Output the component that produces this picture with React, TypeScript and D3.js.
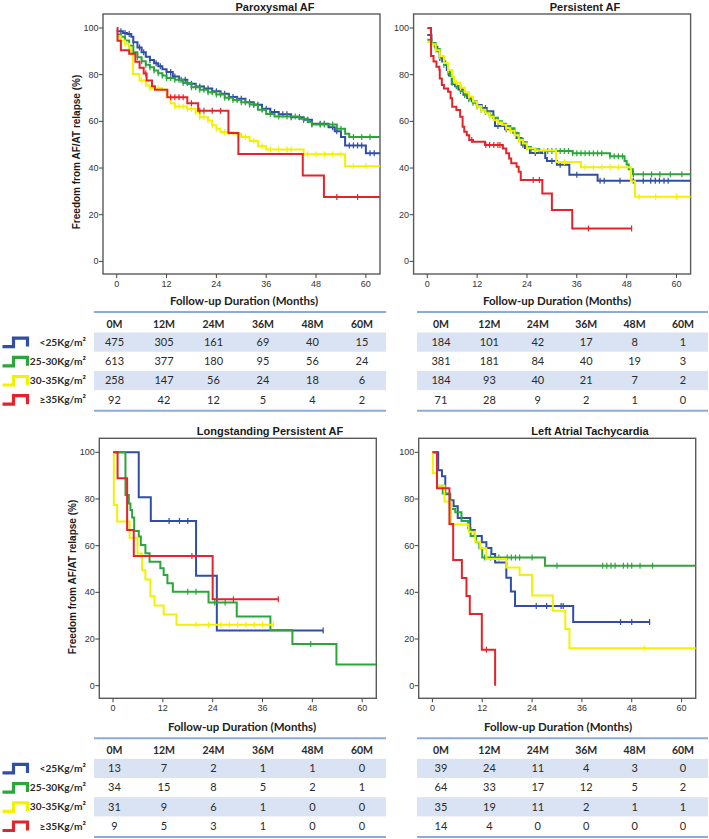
import React from 'react';
import * as d3 from 'd3';

type Pt = [number, number];

// ---------- Paroxysmal AF ----------
const parBlue: Pt[] = [[0,98.6],[1.5,97.9],[2.5,97.4],[3.5,96.3],[4,93.9],[5,91.7],[6,89.6],[7,87.7],[8,86.3],[9,84.9],[10,83.6],[11,82.3],[12,81.1],[13.5,79.2],[15,77.8],[17,76.1],[19,74.9],[21,74.1],[23,72.9],[25,71.8],[27,70.4],[29,69.7],[31,68.2],[33,67.1],[35,65.4],[37,64.0],[39,63.0],[42,61.8],[45,60.7],[47,59.0],[51,57.5],[52.5,55.8],[54,53.3],[55,49.7],[60,46.3]];
const parBlueCensor = [1,2,3,4,5.5,6.5,8,9.5,10.5,12,13,14,15.5,16.5,18,19,20,21,22,23,24,25,26,27,28,29,30,31,32,33,34,35,36,37,38,39,40,41,42,44,45,46,47,49,50,52,53,56,57,58,59,61,62];
const parGreen: Pt[] = [[0,97.2],[1,96.3],[2,94.6],[3,92.4],[4,89.6],[5,87.5],[6,85.8],[7,84.3],[8,83.2],[9,81.8],[10,80.6],[11,79.6],[12,78.6],[14,77.8],[16,76.4],[18,74.6],[20,73.5],[22,72.5],[24,71.5],[26,70.1],[28,69.2],[30,68.2],[32,67.2],[34,65.0],[36,63.2],[38,62.1],[44,61.1],[46,59.7],[47,58.7],[53,56.8],[55,54.7],[56,53.3]];
const parGreenCensor = [1,2,3,4,5,6,7,8,9,10,11,12,13,14,15,16,17,18,19,20,21,22,23,24,25,26,27,28,29,30,31,32,33,35,37,39,41,43,45,47,49,50,52,54,57,59,61];
const parYellow: Pt[] = [[0,96.5],[1,94.6],[2,93.2],[3,91.7],[3.5,88.5],[3.9,80.3],[5.5,77.5],[7,75.4],[8,74.2],[11,73.5],[12,70.4],[13,67.8],[14,66.4],[17,65.4],[19,64.0],[20,61.8],[22,60.4],[23,58.3],[24,56.8],[25,55.4],[28,54.7],[30,53.3],[32,51.6],[34,49.3],[36,47.9],[45,45.9],[55,40.8]];
const parYellowCensor = [2,6,8,10,14,15,16,17,18,19,20,21,22,23,24,26,27,29,31,33,35,37,39,41,42,46,48,50,52,54,57,60];
const parRed: Pt[] = [[0,100],[0.2,94.5],[1,90.5],[3,89],[4.5,85.5],[5.5,83],[6.5,80.5],[7.2,77.5],[8.5,75],[9.2,73.5],[12.2,70.3],[17,67.8],[19.6,64.5],[26.9,55],[29.3,46],[44.8,36.8],[49.9,27.6]];
const parRedCensor = [7,13,14,15,16,18,20,21,23,25,53,58];

// ---------- Persistent AF ----------
const perBlue: Pt[] = [[0,97],[1,93.6],[1.8,92],[2.4,90],[3,87.1],[3.6,85.7],[4.3,84.3],[4.7,82],[5.2,79.6],[5.9,76],[6.7,75],[7.5,73.6],[8.7,71.4],[9.6,70],[10.7,68.6],[11.9,67],[13.1,65.7],[14.3,64.3],[15.9,61.4],[16.3,58],[18.7,56.6],[20.7,55.1],[21.5,52.9],[22.7,50],[23.5,48.6],[24.7,46.4],[28.4,44.3],[28.8,43],[31.2,41.4],[34.2,37.1],[41,34.6]];
const perBlueCensor = [1,2,3,4,5,9,10,12,14,17,19,21,23,26,30,32,36,41.6,42.6,46.4,49.6,52,53.8,54.9,55.9,57,58];
const perGreen: Pt[] = [[0,95],[1,93.6],[2,91],[3,87.5],[4,84.3],[5,81],[5.5,79.5],[6,76.5],[7,75],[8,73],[9,71.5],[10,69.5],[11,68],[12,66.5],[13,65],[14,64],[15,62.5],[16,61.5],[17,60],[18,59],[19,58],[20,57],[21,55],[22,52.5],[23,51],[24,49],[25,48],[27,47.3],[35,46.3],[44,45],[47.5,43],[48,41.5],[48.5,39.5],[49.5,37.3]];
const perGreenCensor = [1,2,3,4,5,6,7,8,9,10,11,12,13,14,15,16,17,18,19,20,21,22,23,24,25,27,28,29,30,31,32,33,34,35,36,37,38,39,40,41,42,44,45,46,47,49.6,52,54,56,58.5,61.3];
const perYellow: Pt[] = [[0,94],[1,93],[2,90.5],[3,88],[4,85],[5,82],[6,79],[6.5,76.5],[8,74.5],[9,72.5],[10,70.5],[11,68.5],[12,66.5],[13,65],[14,63.5],[15,62],[16,60.5],[17,59.5],[18,58.5],[19,57],[20,56],[21,54],[22,52],[23,50.5],[24,48.5],[26,47.5],[31,42.6],[37,40.3],[49,34.3],[50,27.7]];
const perYellowCensor = [2,3,5,7,8,10,12,13,15,17,19,20,22,24,26,28,33,38,40,42,44,46,51,55,60];
const perRed: Pt[] = [[0,100],[0.9,88],[1.5,85.6],[2.2,83.4],[2.9,82],[3,78.4],[3.5,75.6],[4,74.1],[5,72.7],[5.6,69.9],[6,66.3],[7,64.9],[7.9,62],[8.5,57.7],[8.9,55.6],[9.5,54.1],[10.1,52],[11,51.3],[13.9,49.9],[18.2,48.4],[19,46.3],[19.7,44.1],[20.2,42],[21.5,40.6],[22,38.4],[22.5,34.9],[27.7,29.1],[30,22],[34.9,14.1]];
const perRedCensor = [10.7,14.1,15,16,17,17.5,25.5,27,38.8,49.2];

// ---------- Longstanding Persistent AF ----------
const lspBlue: Pt[] = [[0,100],[6.2,80.7],[9.1,70.6],[20,47.1],[25,23.6]];
const lspBlueCensor = [13.5,16,18,50.6];
const lspGreen: Pt[] = [[0,100],[3,81.7],[3.8,78.1],[4.2,75.3],[4.6,72.1],[5.1,66.3],[6.2,63.9],[6.7,60.3],[7.8,56.7],[8.8,53.1],[11.4,50.3],[12.2,47.4],[13.1,43.9],[14.4,40.3],[23,35.6],[29.8,29.6],[37.9,23.9],[43.2,17.9],[53.8,9.1]];
const lspGreenCensor = [18,20,24.5,27,47.6];
const lspYellow: Pt[] = [[0,100],[0.2,77.4],[1,70.3],[4,63.4],[5.9,56.6],[7,49.5],[7.8,45.5],[9,38.3],[10,34.4],[12.2,30.5],[15.3,26.1]];
const lspYellowCensor = [20,23,26,28,30,32,34,36,38.6];
const lspRed: Pt[] = [[0,100],[1.1,88.9],[3.4,66.7],[5,55.6],[24,37]];
const lspRedCensor = [19,29,39.8];

// ---------- Left Atrial Tachycardia ----------
const latBlue: Pt[] = [[0,100],[1.4,92.3],[2.3,89.7],[3.1,82],[4.3,79.5],[5.1,76.9],[6.1,71.8],[9.1,66.7],[10.2,64.1],[11.9,61.5],[13,59],[14.2,56.4],[15.1,52.8],[17.8,46.2],[18.9,40.4],[19.9,34.1],[33.9,27.3]];
const latBlueCensor = [25,27.5,31,31.5,45.3,48,52.3];
const latGreen: Pt[] = [[0,100],[1.1,85.7],[2.5,82.4],[4.2,75.7],[5.5,74.3],[7,70.6],[8.6,67.5],[9.2,64.1],[10.5,61.5],[11.3,58.9],[12,54.9],[27.1,51.4]];
const latGreenCensor = [12.6,14,16,18,19,20,21,24,30,41,42,43,44,46,47,48,50,53];
const latYellow: Pt[] = [[0,100],[0.1,91],[1.1,85.7],[2.9,78.9],[4.5,69.1],[8.7,66],[10.3,61.7],[11.5,58.9],[13,54.3],[17.8,50.6],[21,47.4],[24,38.6],[29,32.1],[32,24.3],[33,16]];
const latYellowCensor = [51];
const latRed: Pt[] = [[0,100],[1.1,84.6],[4.1,69.3],[5,53.9],[7.1,46.1],[8.2,38.4],[9,30.7],[11.9,15.4],[15.1,0]];
const latRedCensor = [13];

// ---------- Tables ----------
const tableCols = ['0M','12M','24M','36M','48M','60M'];
const groups = ['<25Kg/m²','25-30Kg/m²','30-35Kg/m²','≥35Kg/m²'];
const parAtRisk = [[475,305,161,69,40,15],[613,377,180,95,56,24],[258,147,56,24,18,6],[92,42,12,5,4,2]];
const perAtRisk = [[184,101,42,17,8,1],[381,181,84,40,19,3],[184,93,40,21,7,2],[71,28,9,2,1,0]];
const lspAtRisk = [[13,7,2,1,1,0],[34,15,8,5,2,1],[31,9,6,1,0,0],[9,5,3,1,0,0]];
const latAtRisk = [[39,24,11,4,3,0],[64,33,17,12,5,2],[35,19,11,2,1,1],[14,4,0,0,0,0]];

const xTicks = [0,12,24,36,48,60];
const yTicks = [0,20,40,60,80,100];

const COLORS = ['#2f4ea4', '#2ca53a', '#f2f200', '#e4242b'];

type Curve = { pts: Pt[]; end: number; censors: number[] };

const W = 277, H = 260;
const AX = 'Liberation Sans Narrow, Arial Narrow, Liberation Sans, Arial, sans-serif';
const BOLD = 'Liberation Sans, Arial, sans-serif';
const TBL = 'Lato, Open Sans, sans-serif';

function survAt(pts: Pt[], t: number) {
  let s = pts[0][1];
  for (const p of pts) if (p[0] <= t) s = p[1];
  return s;
}

function Panel({ left, top, title, titleX, curves, yLabel, yLabelX, yLabelY }: any) {
  const x = d3.scaleLinear().domain([-3.3, 63.4]).range([left, left + W]);
  const y = d3.scaleLinear().domain([-5.4, 106]).range([top + H, top]);
  const line = d3.line<Pt>().x(d => x(d[0])).y(d => y(d[1])).curve(d3.curveStepAfter);
  return (
    <g>
      <text x={titleX} y={top - 3} textAnchor="middle" fontFamily={BOLD} fontWeight="bold" fontSize={11} fill="#1a1a1a">{title}</text>
      <rect x={left} y={top} width={W} height={H} fill="#fff" stroke="#5a5a5a" strokeWidth={1.4} />
      {yTicks.map(t => (
        <g key={'y' + t}>
          <line x1={left - 4} x2={left} y1={y(t)} y2={y(t)} stroke="#444" strokeWidth={1} />
          <text x={left - 4.5} y={y(t)} dy="0.33em" textAnchor="end" fontFamily={AX} fontSize={9} fill="#333">{t}</text>
        </g>
      ))}
      {xTicks.map(t => (
        <g key={'x' + t}>
          <line x1={x(t)} x2={x(t)} y1={top + H} y2={top + H + 4} stroke="#444" strokeWidth={1} />
          <text x={x(t)} y={top + H + 13} textAnchor="middle" fontFamily={AX} fontSize={9} fill="#333">{t}</text>
        </g>
      ))}
      {yLabel && (
        <text transform={`translate(${yLabelX},${yLabelY}) rotate(-90)`} textAnchor="middle" fontFamily={BOLD} fontWeight="bold" fontSize={10} fill="#1a1a1a">Freedom from AF/AT relapse (%)</text>
      )}
      {curves.map((c: Curve, i: number) => {
        const last = c.pts[c.pts.length - 1][1];
        const d = line(c.pts.concat([[c.end, last]]) as Pt[]) || '';
        return (
          <g key={i}>
            <path d={d} fill="none" stroke={COLORS[i]} strokeWidth={2} />
            {c.censors.map((t, k) => {
              const s = survAt(c.pts, t);
              return <line key={k} x1={x(t)} x2={x(t)} y1={y(s) - 3} y2={y(s) + 3} stroke={COLORS[i]} strokeWidth={1.2} />;
            })}
          </g>
        );
      })}
    </g>
  );
}

function Table({ x0, x1, colStart, colEnd, top, data, labelX, labelY }: any) {
  const col = d3.scalePoint<string>().domain(tableCols).range([colStart, colEnd]);
  const rowH = 19.2;
  const headerY = top + 12;
  const row0 = top + 20.5;
  return (
    <g>
      <text x={labelX} y={labelY} textAnchor="middle" fontFamily={TBL} fontWeight="bold" fontSize={11.5} fill="#222">Follow-up Duration (Months)</text>
      <line x1={x0} x2={x1} y1={top} y2={top} stroke="#8eaadb" strokeWidth={2} />
      {tableCols.map(c => (
        <text key={c} x={col(c)} y={headerY} dy="0.35em" textAnchor="middle" fontFamily={TBL} fontWeight="bold" fontSize={10.5} fill="#2a2a2a">{c}</text>
      ))}
      {data.map((row: number[], r: number) => (
        <g key={r}>
          {r % 2 === 0 && <rect x={x0} y={row0 + r * rowH} width={x1 - x0} height={rowH} fill="#dae3f3" />}
          {row.map((v, k) => (
            <text key={k} x={col(tableCols[k])} y={row0 + r * rowH + rowH / 2} dy="0.35em" textAnchor="middle" fontFamily={TBL} fontSize={11} fill="#2a2a2a">{v}</text>
          ))}
        </g>
      ))}
      <line x1={x0} x2={x1} y1={row0 + 4 * rowH + 1.5} y2={row0 + 4 * rowH + 1.5} stroke="#8eaadb" strokeWidth={2} />
    </g>
  );
}

function Legend({ top }: any) {
  const rowH = 19.2;
  const row0 = top + 20.5;
  return (
    <g>
      {groups.map((g, i) => {
        const cy = row0 + i * rowH + rowH / 2;
        return (
          <g key={g}>
            <path d={`M2.5,${cy + 4.5} H13.5 V${cy - 4} H27.5 V${cy + 4.5}`} fill="none" stroke={COLORS[i]} strokeWidth={3.2} />
            <text x={86} y={cy} dy="0.35em" textAnchor="end" fontFamily={TBL} fontWeight="bold" fontSize={10.2} fill="#2a2a2a">{g}</text>
          </g>
        );
      })}
    </g>
  );
}

export default function App() {
  const mk = (pts: Pt[], end: number, censors: number[]): Curve => ({ pts, end, censors });
  return (
    <svg width={709} height={839} style={{ position: 'absolute', left: 0, top: 0, background: '#fff' }}>
      <rect x={0} y={0} width={709} height={839} fill="#fff" />
      <Panel left={103} top={14} title="Paroxysmal AF" titleX={275} yLabel yLabelX={80} yLabelY={152}
        curves={[mk(parBlue, 63.4, parBlueCensor), mk(parGreen, 63.4, parGreenCensor), mk(parYellow, 63.4, parYellowCensor), mk(parRed, 63.4, parRedCensor)]} />
      <Panel left={413.6} top={14} title="Persistent AF" titleX={585}
        curves={[mk(perBlue, 63.4, perBlueCensor), mk(perGreen, 63.4, perGreenCensor), mk(perYellow, 63.4, perYellowCensor), mk(perRed, 49.2, perRedCensor)]} />
      <Panel left={99.3} top={438.3} title="Longstanding Persistent AF" titleX={270} yLabel yLabelX={76} yLabelY={577}
        curves={[mk(lspBlue, 50.6, lspBlueCensor), mk(lspGreen, 63.4, lspGreenCensor), mk(lspYellow, 38.6, lspYellowCensor), mk(lspRed, 39.8, lspRedCensor)]} />
      <Panel left={418.7} top={438.3} title="Left Atrial Tachycardia" titleX={590}
        curves={[mk(latBlue, 52.3, latBlueCensor), mk(latGreen, 63.4, latGreenCensor), mk(latYellow, 63.4, latYellowCensor), mk(latRed, 15.1, latRedCensor)]} />

      <Table x0={94} x1={386} colStart={114.5} colEnd={362} top={312} data={parAtRisk} labelX={244} labelY={305} />
      <Table x0={417} x1={708} colStart={441} colEnd={683} top={312} data={perAtRisk} labelX={557} labelY={305} />
      <Legend top={312} />
      <Table x0={94} x1={386} colStart={114.5} colEnd={362} top={738.3} data={lspAtRisk} labelX={242} labelY={731} />
      <Table x0={417} x1={708} colStart={441} colEnd={683} top={738.3} data={latAtRisk} labelX={558} labelY={731} />
      <Legend top={738.3} />
    </svg>
  );
}
